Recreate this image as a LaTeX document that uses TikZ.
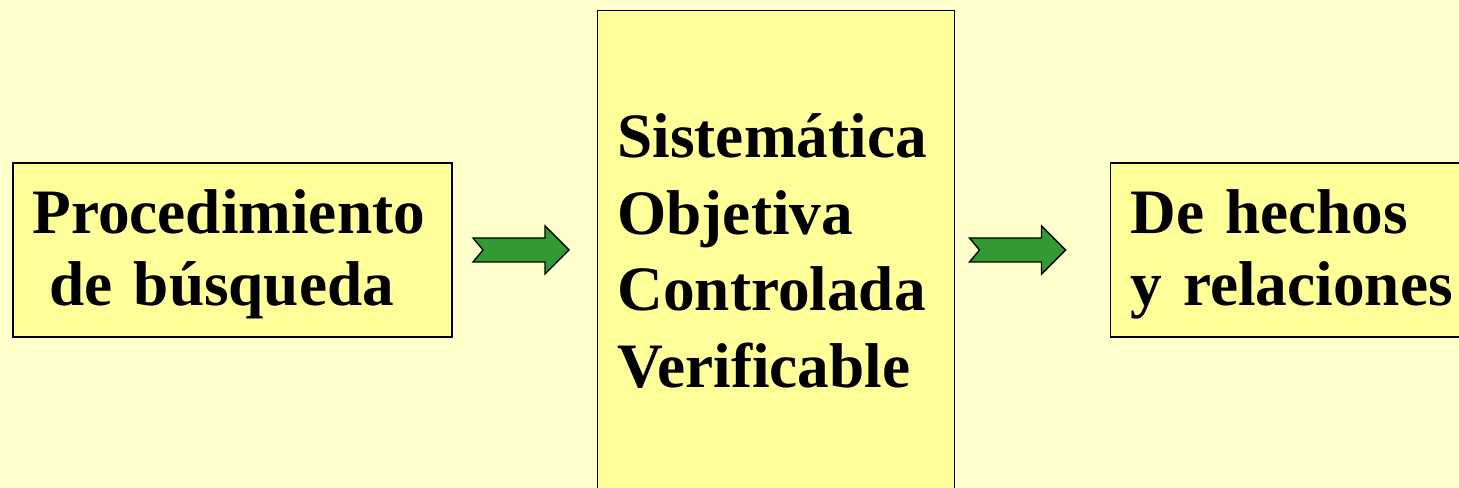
\documentclass[tikz,border=0pt]{standalone}
\usepackage{fontspec}
\setmainfont{Liberation Serif}
\definecolor{bgyellow}{HTML}{FFFFCC}
\definecolor{boxyellow}{HTML}{FFFF99}
\definecolor{arrowgreen}{HTML}{339933}
% pushes the first line of a box down a little
\newcommand{\toppad}{\rule{0pt}{1.06cm}}

\begin{document}
\begin{tikzpicture}[
  box/.style={draw=black, line width=0.6pt, fill=boxyellow, align=left,
    inner ysep=0pt, font=\bfseries\fontsize{36}{41}\selectfont},
  blockarrow/.style={draw=black, line width=0.8pt, fill=arrowgreen, line join=miter}
]
  % Page and background
  \useasboundingbox (0,0) rectangle (29.18,9.76);
  \clip (0,0) rectangle (29.18,9.76);
  \fill[bgyellow] (0,0) rectangle (29.18,9.76);
  % Boxes
  \node[box, text width=8cm, inner xsep=0.39cm, minimum height=3.48cm] (proc) at (4.65,4.76)
    {\toppad Procedimiento\\\hspace*{0.34cm}de búsqueda};
  \node[box, font=\bfseries\fontsize{36}{43.5}\selectfont, text width=6.34cm, inner xsep=0.4cm,
    minimum height=9.62cm, anchor=north west] (rasgos) at (11.94,9.56)
    {Sistemática\\Objetiva\\Controlada\\Verificable};
  \node[box, text width=6.8cm, inner xsep=0.4cm, minimum height=3.48cm, anchor=west] (hechos) at (22.2,4.76)
    {\toppad De hechos\\y relaciones};
  % Arrows between the boxes
  \coordinate (a1) at (10.42,4.76);
  \coordinate (a2) at (20.35,4.76);
  \foreach \a in {a1,a2}
    \draw[blockarrow, shift={(\a)}] (-0.96,0.24) -- (0.48,0.24) -- (0.48,0.48) -- (0.96,0)
      -- (0.48,-0.48) -- (0.48,-0.24) -- (-0.96,-0.24) -- (-0.76,0) -- cycle;
\end{tikzpicture}
\end{document}
